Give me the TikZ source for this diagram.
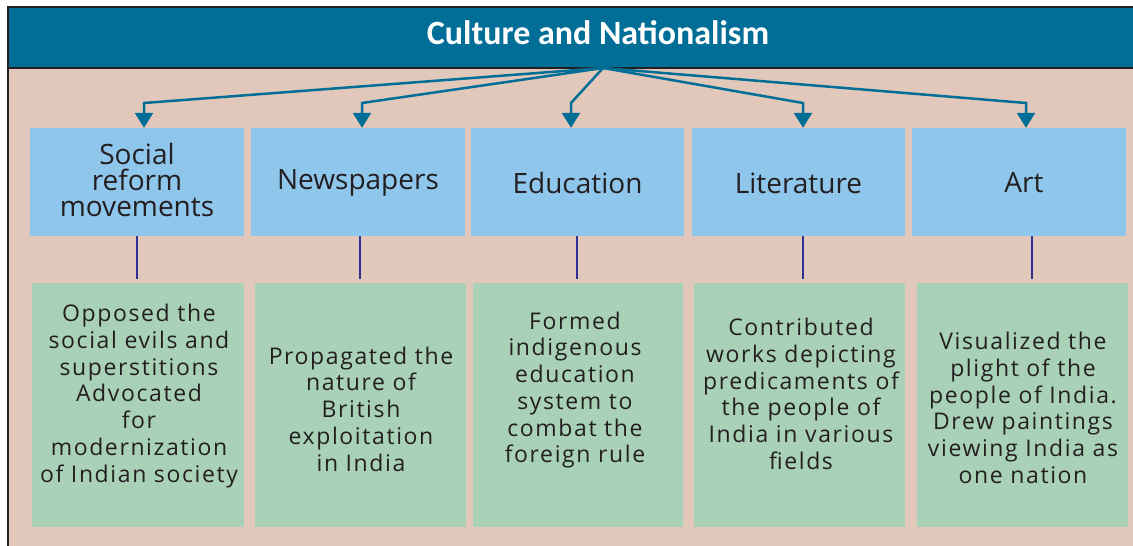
\documentclass[tikz,border=0pt]{standalone}
\usepackage{fontspec}
\setmainfont{Open Sans}
\newfontfamily\titlefont{Carlito}
\newfontfamily\spacedfont{Open Sans}[LetterSpace=7]
\usetikzlibrary{arrows.meta}
\definecolor{hdr}{HTML}{006E96}
\definecolor{bodyc}{HTML}{E2C8BB}
\definecolor{bluebox}{HTML}{8FC6EC}
\definecolor{greenbox}{HTML}{A9D1B8}
\definecolor{vl}{HTML}{2E3192}
\definecolor{ink}{HTML}{231F20}
\begin{document}
\begin{tikzpicture}[x=1pt,y=-1pt,
  topbox/.style={fill=bluebox, draw=none, inner sep=0pt, minimum height=108pt},
  botbox/.style={fill=greenbox, draw=none, inner sep=0pt, minimum height=244pt},
  toptext/.style={text=ink, align=center, inner sep=0pt, font=\fontsize{28}{26}\selectfont},
  bottext/.style={text=ink, align=center, inner sep=0pt, font=\spacedfont\fontsize{23}{26.7}\selectfont},
  arr/.style={draw=hdr, line width=2.5pt, -{Triangle[width=18pt,length=15pt]}},
  vline/.style={draw=vl, line width=2pt, shorten >=4pt}
]
\useasboundingbox (0,0) rectangle (1133,546);
% frame
\fill[bodyc] (8,7) rectangle (1133,546);
\fill[hdr] (8,7) rectangle (1133,68);
\draw[ink, line width=2.2pt] (1133,7) -- (8,7) -- (8,546);
\draw[ink, line width=2.2pt] (8,68) -- (1133,68);
\node[text=white, inner sep=0pt, font=\titlefont\bfseries\fontsize{34}{40}\selectfont] (title) at (598,33) {Culture and Nationalism};
\coordinate (hub) at (603,68);

% top boxes
\node[topbox, minimum width=214pt] (b1) at (137,182) {};
\node[topbox, minimum width=214pt] (b2) at (358,182) {};
\node[topbox, minimum width=213pt] (b3) at (577.5,182) {};
\node[topbox, minimum width=213pt] (b4) at (798.5,182) {};
\node[topbox, minimum width=214pt] (b5) at (1019,182) {};
\node[toptext] (t1) at (137,180) {Social\\reform\\movements};
\node[toptext] (t2) at (358,183) {Newspapers};
\node[toptext] (t3) at (577.5,183) {Education};
\node[toptext] (t4) at (798.5,183) {Literature};
\node[toptext] (t5) at (1024,183) {Art};

% bottom boxes
\node[botbox, minimum width=212pt] (g1) at (138,405) {};
\node[botbox, minimum width=211pt] (g2) at (360.5,405) {};
\node[botbox, minimum width=210pt] (g3) at (578,405) {};
\node[botbox, minimum width=211pt] (g4) at (799.5,405) {};
\node[botbox, minimum width=211pt] (g5) at (1022.5,405) {};
\node[bottext] (u1) at (139,396) {Opposed the\\social evils and\\superstitions\\Advocated\\for\\modernization\\of Indian society};
\node[bottext] (u2) at (361,409) {Propagated the\\nature of\\British\\exploitation\\in India};
\node[bottext] (u3) at (575,390) {Formed\\indigenous\\education\\system to\\combat the\\foreign rule};
\node[bottext] (u4) at (801,394) {Contributed\\works depicting\\predicaments of\\the people of\\India in various\\fields};
\node[bottext] (u5) at (1023,408) {Visualized the\\plight of the\\people of India.\\Drew paintings\\viewing India as\\one nation};

% arrows
\coordinate (a1) at (144,103);
\coordinate (a2) at (362,103);
\coordinate (a3) at (571,103);
\coordinate (a4) at (803,103);
\coordinate (a5) at (1026,103);
\foreach \i in {1,...,5} {
  \draw[arr] (hub) -- (a\i) -- (a\i |- b\i.north);
}
% vertical links
\draw[vline] (b1.south) -- (b1.south |- g1.north);
\draw[vline] ([xshift=2pt]b2.south) -- ([xshift=2pt]b2.south |- g2.north);
\draw[vline] ([xshift=-1pt]b3.south) -- ([xshift=-1pt]b3.south |- g3.north);
\draw[vline] ([xshift=4pt]b4.south) -- ([xshift=4pt]b4.south |- g4.north);
\draw[vline] ([xshift=13pt]b5.south) -- ([xshift=13pt]b5.south |- g5.north);
\end{tikzpicture}
\end{document}
